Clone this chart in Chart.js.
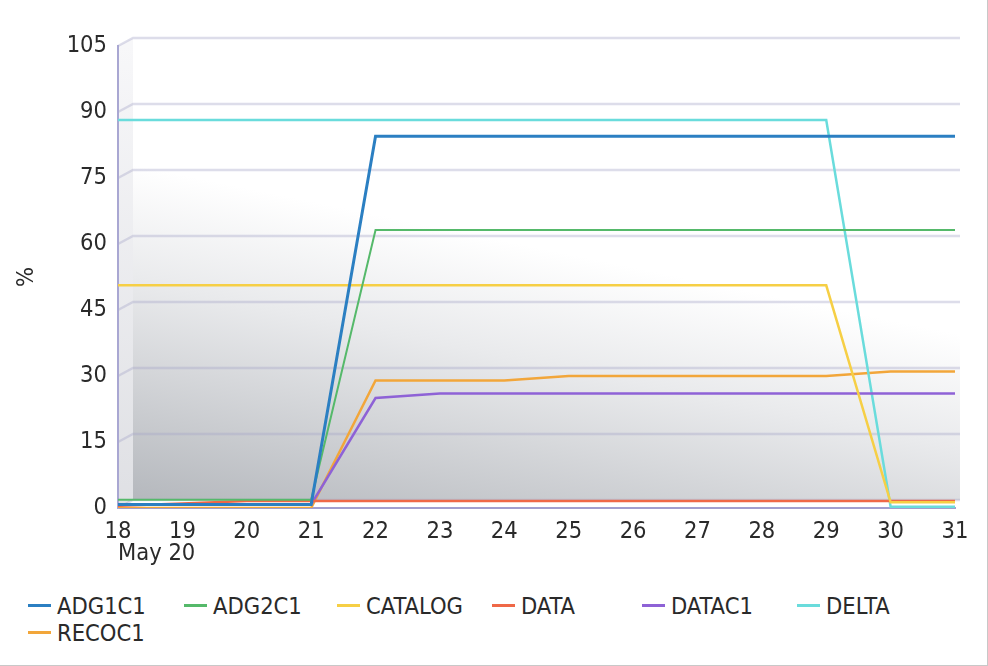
<!DOCTYPE html>
<html>
<head>
<meta charset="utf-8">
<script src="https://cdn.jsdelivr.net/npm/chart.js@4/dist/chart.umd.min.js"></script>
<style>
  html, body { margin: 0; padding: 0; background: #fff; }
  #wrap { position: relative; width: 987px; height: 665px; border-right: 1px solid #c8c8c8; border-bottom: 1px solid #c8c8c8; overflow: hidden; }
  #chart { position: absolute; left: 0; top: 0; }
  #legend { position: absolute; left: 28px; top: 592px; width: 940px; display: grid; grid-template-columns: 156px 153px 155px 150px 155px 155px; row-gap: 0;
            font-family: "DejaVu Sans Condensed", "DejaVu Sans", sans-serif; font-size: 23.5px; color: #2a2a2a; }
  #legend div { display: flex; align-items: center; height: 27px; white-space: nowrap; }
  #legend span.mark { display: inline-block; width: 23px; height: 2.5px; margin-right: 6px; }
</style>
</head>
<body>
<div id="wrap">
  <canvas id="chart" width="988" height="570"></canvas>
  <div id="legend"></div>
</div>
<script>
// categories (days in May 2020)
const days = ["18", "19", "20", "21", "22", "23", "24", "25", "26", "27", "28", "29", "30", "31"];
const yTicks = [0, 15, 30, 45, 60, 75, 90, 105];

// series values, in %
const seriesNames = ["ADG1C1", "ADG2C1", "CATALOG", "DATA", "DATAC1", "DELTA", "RECOC1"];
const adg1c1  = [0.8, 0.8, 0.8, 0.8, 84.5, 84.5, 84.5, 84.5, 84.5, 84.5, 84.5, 84.5, 84.5, 84.5];
const adg2c1  = [1.9, 1.9, 1.9, 1.9, 63.2, 63.2, 63.2, 63.2, 63.2, 63.2, 63.2, 63.2, 63.2, 63.2];
const catalog = [50.6, 50.6, 50.6, 50.6, 50.6, 50.6, 50.6, 50.6, 50.6, 50.6, 50.6, 50.6, 1.3, 1.3];
const data    = [0.5, 1.0, 1.6, 1.6, 1.6, 1.6, 1.6, 1.6, 1.6, 1.6, 1.6, 1.6, 1.6, 1.6];
const datac1  = [0.8, 0.8, 0.8, 0.8, 25, 26, 26, 26, 26, 26, 26, 26, 26, 26];
const delta   = [88.2, 88.2, 88.2, 88.2, 88.2, 88.2, 88.2, 88.2, 88.2, 88.2, 88.2, 88.2, 0.3, 0.3];
const recoc1  = [0, 0, 0, 0, 29, 29, 29, 30, 30, 30, 30, 30, 31, 31];

const seriesValues = [adg1c1, adg2c1, catalog, data, datac1, delta, recoc1];
const colors = ["#2b7fc2", "#55b96a", "#f6cf45", "#ef6847", "#8e62d6", "#6adcdc", "#f2a63a"];
const widths = [3, 2, 2.5, 2.5, 2.5, 2.5, 2.5];

// 3D-ish back wall, side wall and grid lines, drawn before the axes and lines
const wallPlugin = {
    id: "wall",
    beforeDraw(chart) {
        const ctx = chart.ctx;
        const a = chart.chartArea;
        const ys = chart.scales.y;
        const dx = 15, dy = -8;
        const bl = a.left + dx, br = a.right + 5, bt = a.top + dy, bb = a.bottom + dy;
        ctx.save();

        // back wall: white on top, grey growing towards the lower left
        const y0 = ys.getPixelForValue(78);
        let g = ctx.createLinearGradient(bl, y0, bl - 65, y0 + 317);
        g.addColorStop(0, "#ffffff");
        g.addColorStop(0.35, "#e9eaec");
        g.addColorStop(1, "#b6b9be");
        ctx.fillStyle = g;
        ctx.fillRect(bl, bt, br - bl, bb - bt);

        // side wall
        g = ctx.createLinearGradient(0, a.top, 0, a.bottom);
        g.addColorStop(0, "#f7f7f9");
        g.addColorStop(1, "#dfe0e4");
        ctx.fillStyle = g;
        ctx.beginPath();
        ctx.moveTo(a.left, a.top);
        ctx.lineTo(bl, bt);
        ctx.lineTo(bl, bb);
        ctx.lineTo(a.left, a.bottom);
        ctx.closePath();
        ctx.fill();

        // floor
        ctx.fillStyle = "#ffffff";
        ctx.beginPath();
        ctx.moveTo(a.left, a.bottom);
        ctx.lineTo(bl, bb);
        ctx.lineTo(br, bb);
        ctx.lineTo(a.right, a.bottom);
        ctx.closePath();
        ctx.fill();

        // grid lines
        ctx.strokeStyle = "rgba(165,165,200,0.38)";
        ctx.lineWidth = 2.5;
        yTicks.forEach(function (v) {
            const y = ys.getPixelForValue(v);
            ctx.beginPath();
            ctx.moveTo(a.left, y);
            ctx.lineTo(bl, y + dy);
            ctx.lineTo(br, y + dy);
            ctx.stroke();
        });
        ctx.restore();
    }
};

const font = { family: "'DejaVu Sans Condensed', 'DejaVu Sans', sans-serif", size: 23.5 };
const textColor = "#2a2a2a";

new Chart(document.getElementById("chart").getContext("2d"), {
    type: "line",
    data: {
        labels: days,
        datasets: seriesNames.map(function (name, i) {
            return {
                label: name,
                data: seriesValues[i],
                borderColor: colors[i],
                backgroundColor: colors[i],
                borderWidth: widths[i],
                pointRadius: 0,
                tension: 0,
                fill: false
            };
        })
    },
    options: {
        responsive: false,
        animation: false,
        layout: { padding: { left: 0, right: 33, top: 46, bottom: 0 } },
        plugins: { legend: { display: false }, tooltip: { enabled: false } },
        scales: {
            x: {
                grid: { display: false, drawTicks: false },
                border: { display: true, color: "#a29ecf", width: 2 },
                ticks: { font: font, color: textColor, padding: 10, maxRotation: 0, autoSkip: false },
                title: { display: true, text: "May 20", align: "start", font: font, color: textColor, padding: { top: 0, bottom: 2 } },
                afterFit: function (s) { s.height = 62; }
            },
            y: {
                min: 0,
                max: 105,
                grid: { display: false, drawTicks: false },
                border: { display: true, color: "#a9a7d2", width: 2 },
                ticks: { stepSize: 15, font: font, color: textColor, padding: 11 },
                title: { display: true, text: "%", font: font, color: textColor, padding: { top: 13, bottom: 0 } },
                afterFit: function (s) { s.width = 118; }
            }
        }
    },
    plugins: [wallPlugin]
});

// legend in fixed columns
const legend = document.getElementById("legend");
seriesNames.forEach(function (name, i) {
    const item = document.createElement("div");
    const mark = document.createElement("span");
    mark.className = "mark";
    mark.style.background = colors[i];
    item.appendChild(mark);
    item.appendChild(document.createTextNode(name));
    legend.appendChild(item);
});
</script>
</body>
</html>
